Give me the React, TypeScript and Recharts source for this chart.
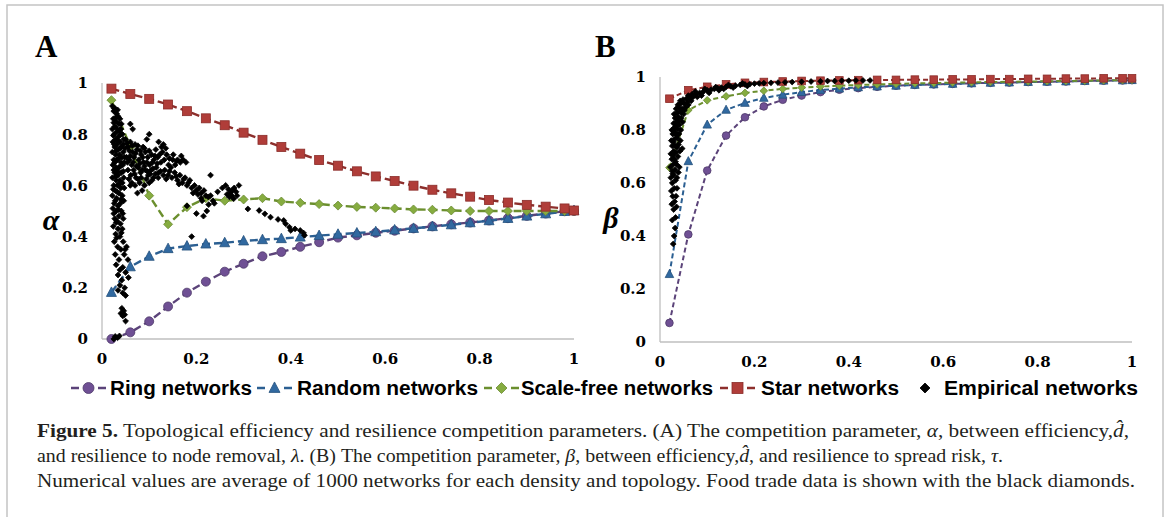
import { ScatterChart, Scatter, XAxis, YAxis } from "recharts";

// network density (x) shared by all simulated topologies
const DENSITY = [0.02, 0.06, 0.1, 0.14, 0.18, 0.22, 0.26, 0.3, 0.34, 0.38, 0.42, 0.46, 0.5, 0.54, 0.58, 0.62, 0.66, 0.7, 0.74, 0.78, 0.82, 0.86, 0.9, 0.94, 0.98, 1];
const TICKS = [0, 0.2, 0.4, 0.6, 0.8, 1];

// Panel A: alpha
const RING_A = [0, 0.026, 0.069, 0.127, 0.181, 0.224, 0.263, 0.294, 0.323, 0.34, 0.36, 0.378, 0.396, 0.405, 0.415, 0.423, 0.432, 0.44, 0.448, 0.455, 0.463, 0.472, 0.481, 0.49, 0.499, 0.5];
const RANDOM_A = [0.182, 0.282, 0.323, 0.353, 0.363, 0.371, 0.376, 0.383, 0.388, 0.392, 0.398, 0.404, 0.409, 0.414, 0.419, 0.426, 0.432, 0.439, 0.446, 0.454, 0.462, 0.471, 0.48, 0.489, 0.498, 0.502];
const SCALEFREE_A = [0.933, 0.75, 0.56, 0.448, 0.515, 0.55, 0.54, 0.545, 0.55, 0.537, 0.532, 0.527, 0.521, 0.516, 0.513, 0.51, 0.506, 0.505, 0.502, 0.5, 0.5, 0.5, 0.5, 0.5, 0.5, 0.5];
const STAR_A = [0.978, 0.957, 0.938, 0.916, 0.89, 0.862, 0.835, 0.806, 0.778, 0.75, 0.724, 0.699, 0.677, 0.655, 0.635, 0.617, 0.599, 0.583, 0.569, 0.556, 0.543, 0.533, 0.524, 0.517, 0.51, 0.502];

// Panel B: beta
const RING_B = [0.072, 0.406, 0.647, 0.779, 0.848, 0.889, 0.914, 0.93, 0.943, 0.952, 0.958, 0.963, 0.967, 0.97, 0.972, 0.974, 0.976, 0.978, 0.979, 0.981, 0.982, 0.983, 0.985, 0.986, 0.987, 0.988];
const RANDOM_B = [0.256, 0.682, 0.82, 0.876, 0.902, 0.921, 0.933, 0.943, 0.951, 0.956, 0.961, 0.964, 0.967, 0.97, 0.972, 0.974, 0.976, 0.978, 0.979, 0.981, 0.982, 0.983, 0.985, 0.986, 0.987, 0.988];
const SCALEFREE_B = [0.658, 0.875, 0.912, 0.927, 0.94, 0.948, 0.955, 0.96, 0.964, 0.967, 0.97, 0.972, 0.974, 0.976, 0.977, 0.979, 0.98, 0.981, 0.982, 0.983, 0.984, 0.985, 0.986, 0.987, 0.988, 0.989];
const STAR_B = [0.918, 0.95, 0.963, 0.972, 0.978, 0.981, 0.983, 0.985, 0.986, 0.987, 0.988, 0.989, 0.989, 0.99, 0.99, 0.991, 0.991, 0.992, 0.992, 0.993, 0.993, 0.994, 0.994, 0.995, 0.995, 0.995];

// empirical food trade networks, [density, alpha]
const EMP_A_BAND = [
  [0.022, 0.91], [0.025, 0.89], [0.028, 0.9], [0.031, 0.88], [0.024, 0.86], [0.03, 0.85], [0.034, 0.87], [0.027, 0.83], [0.036, 0.84], [0.022, 0.82],
  [0.032, 0.81], [0.04, 0.82], [0.026, 0.8], [0.035, 0.79], [0.029, 0.78], [0.043, 0.8], [0.023, 0.77], [0.038, 0.77], [0.031, 0.76], [0.046, 0.78],
  [0.027, 0.75], [0.034, 0.74], [0.041, 0.75], [0.022, 0.73], [0.029, 0.72], [0.037, 0.72], [0.045, 0.73], [0.025, 0.7], [0.032, 0.7], [0.04, 0.69],
  [0.048, 0.71], [0.023, 0.68], [0.03, 0.67], [0.036, 0.67], [0.044, 0.68], [0.027, 0.65], [0.034, 0.64], [0.041, 0.65], [0.022, 0.63], [0.03, 0.62],
  [0.038, 0.62], [0.046, 0.63], [0.025, 0.6], [0.033, 0.6], [0.04, 0.59], [0.028, 0.58], [0.036, 0.57], [0.022, 0.56], [0.043, 0.56], [0.031, 0.55],
  [0.026, 0.53], [0.039, 0.53], [0.034, 0.52], [0.046, 0.54], [0.023, 0.51], [0.03, 0.5], [0.041, 0.5], [0.036, 0.48], [0.027, 0.47], [0.045, 0.47],
  [0.032, 0.46], [0.039, 0.45], [0.024, 0.44], [0.034, 0.43], [0.043, 0.43], [0.029, 0.41], [0.038, 0.4], [0.026, 0.38], [0.045, 0.38], [0.033, 0.36],
  [0.04, 0.35], [0.052, 0.36], [0.028, 0.33], [0.047, 0.33], [0.036, 0.31], [0.055, 0.31], [0.03, 0.29], [0.044, 0.28], [0.05, 0.26], [0.034, 0.25],
  [0.042, 0.23], [0.056, 0.24], [0.038, 0.21], [0.048, 0.2], [0.034, 0.19], [0.05, 0.17], [0.044, 0.18], [0.042, 0.12], [0.046, 0.11], [0.04, 0.1],
  [0.048, 0.095], [0.044, 0.09], [0.05, 0.07], [0.028, 0.01], [0.033, 0.005], [0.037, 0.012], [0.025, 0.0],
  [0.026, 0.9], [0.033, 0.895], [0.029, 0.865], [0.038, 0.86], [0.025, 0.845], [0.041, 0.84], [0.03, 0.825], [0.037, 0.815], [0.024, 0.795], [0.04, 0.8],
  [0.033, 0.775], [0.045, 0.76], [0.026, 0.76], [0.038, 0.745], [0.049, 0.745], [0.03, 0.735], [0.042, 0.71], [0.035, 0.705], [0.027, 0.69], [0.047, 0.69],
  [0.039, 0.675], [0.025, 0.66], [0.033, 0.655], [0.045, 0.655], [0.029, 0.635], [0.043, 0.61], [0.036, 0.605], [0.024, 0.585], [0.047, 0.59], [0.032, 0.575],
  [0.04, 0.545], [0.028, 0.54], [0.035, 0.505], [0.044, 0.49], [0.025, 0.49], [0.03, 0.455], [0.041, 0.415], [0.031, 0.395], [0.049, 0.35], [0.038, 0.27],
];
const EMP_A_CLOUD = [
  [0.05, 0.78], [0.055, 0.75], [0.06, 0.77], [0.065, 0.73], [0.07, 0.76], [0.052, 0.71], [0.058, 0.7], [0.063, 0.68], [0.068, 0.71], [0.074, 0.74],
  [0.078, 0.7], [0.083, 0.72], [0.055, 0.66], [0.061, 0.64], [0.067, 0.66], [0.072, 0.63], [0.077, 0.67], [0.082, 0.65], [0.088, 0.69], [0.092, 0.73],
  [0.097, 0.71], [0.087, 0.75], [0.101, 0.68], [0.105, 0.72], [0.11, 0.7], [0.114, 0.74], [0.118, 0.71], [0.092, 0.66], [0.098, 0.64], [0.104, 0.66],
  [0.109, 0.63], [0.115, 0.67], [0.12, 0.65], [0.125, 0.69], [0.128, 0.73], [0.132, 0.7], [0.137, 0.72], [0.141, 0.68], [0.126, 0.75], [0.133, 0.66],
  [0.14, 0.64], [0.146, 0.67], [0.15, 0.7], [0.155, 0.68], [0.16, 0.7], [0.166, 0.69], [0.172, 0.7], [0.148, 0.63], [0.154, 0.65], [0.16, 0.62],
  [0.165, 0.64], [0.17, 0.61], [0.176, 0.63], [0.18, 0.6], [0.186, 0.62], [0.19, 0.59], [0.196, 0.6], [0.2, 0.58], [0.206, 0.59], [0.21, 0.57],
  [0.216, 0.58], [0.22, 0.56], [0.225, 0.555], [0.23, 0.56], [0.21, 0.55], [0.235, 0.54], [0.238, 0.53], [0.226, 0.525], [0.07, 0.6], [0.08, 0.61],
  [0.085, 0.58], [0.075, 0.57], [0.09, 0.6], [0.1, 0.61], [0.06, 0.6], [0.06, 0.84], [0.065, 0.82], [0.1, 0.8], [0.095, 0.78], [0.12, 0.77],
  [0.13, 0.76], [0.23, 0.64], [0.19, 0.4], [0.2, 0.49], [0.215, 0.48], [0.222, 0.5], [0.18, 0.52],
  [0.053, 0.765], [0.058, 0.735], [0.064, 0.755], [0.071, 0.725], [0.076, 0.755], [0.081, 0.735], [0.086, 0.71], [0.09, 0.745], [0.095, 0.69], [0.1, 0.735],
  [0.107, 0.69], [0.112, 0.715], [0.117, 0.685], [0.122, 0.72], [0.135, 0.745], [0.143, 0.705], [0.151, 0.72], [0.158, 0.695], [0.168, 0.715], [0.178, 0.69],
  [0.054, 0.69], [0.06, 0.715], [0.066, 0.69], [0.073, 0.675], [0.08, 0.685], [0.085, 0.66], [0.09, 0.675], [0.096, 0.655], [0.102, 0.645], [0.108, 0.665],
  [0.113, 0.645], [0.119, 0.63], [0.124, 0.655], [0.13, 0.64], [0.136, 0.625], [0.143, 0.655], [0.157, 0.635], [0.163, 0.605], [0.173, 0.625], [0.183, 0.61],
  [0.057, 0.625], [0.063, 0.61], [0.069, 0.645], [0.076, 0.625], [0.083, 0.63], [0.094, 0.625], [0.106, 0.62], [0.193, 0.57], [0.203, 0.565], [0.212, 0.54],
];
const EMP_A_TAIL = [
  [0.245, 0.575], [0.255, 0.59], [0.262, 0.6], [0.268, 0.585], [0.272, 0.57], [0.276, 0.58], [0.28, 0.59], [0.284, 0.575], [0.275, 0.56], [0.27, 0.555],
  [0.29, 0.6], [0.286, 0.56], [0.265, 0.565], [0.279, 0.548], [0.309, 0.508], [0.333, 0.502], [0.345, 0.489], [0.357, 0.476], [0.373, 0.467], [0.385, 0.463],
  [0.389, 0.45], [0.397, 0.437], [0.4, 0.424], [0.409, 0.43], [0.42, 0.424], [0.427, 0.414], [0.429, 0.405],
];
const EMP_B = [
  [0.028, 0.37], [0.03, 0.4], [0.032, 0.43], [0.026, 0.46], [0.033, 0.47], [0.029, 0.5], [0.035, 0.51], [0.025, 0.52], [0.031, 0.53], [0.027, 0.55],
  [0.034, 0.55], [0.024, 0.57], [0.03, 0.58], [0.036, 0.58], [0.026, 0.6], [0.033, 0.61], [0.023, 0.62], [0.029, 0.63], [0.036, 0.62], [0.026, 0.645],
  [0.032, 0.65], [0.039, 0.64], [0.022, 0.66], [0.028, 0.67], [0.035, 0.67], [0.041, 0.66], [0.025, 0.69], [0.031, 0.69], [0.038, 0.7], [0.023, 0.71],
  [0.029, 0.72], [0.034, 0.715], [0.042, 0.72], [0.026, 0.74], [0.032, 0.74], [0.039, 0.745], [0.047, 0.73], [0.024, 0.76], [0.03, 0.765], [0.036, 0.77],
  [0.043, 0.76], [0.027, 0.785], [0.033, 0.79], [0.04, 0.785], [0.025, 0.8], [0.031, 0.81], [0.037, 0.805], [0.044, 0.8], [0.029, 0.825], [0.035, 0.83],
  [0.041, 0.82], [0.048, 0.83], [0.032, 0.845], [0.038, 0.85], [0.045, 0.845], [0.03, 0.86], [0.036, 0.865], [0.042, 0.87], [0.05, 0.86], [0.034, 0.88],
  [0.04, 0.885], [0.047, 0.88], [0.054, 0.885], [0.038, 0.895], [0.044, 0.9], [0.051, 0.9], [0.058, 0.905], [0.043, 0.91], [0.049, 0.915], [0.056, 0.918],
  [0.063, 0.92], [0.07, 0.925], [0.06, 0.93], [0.068, 0.935], [0.076, 0.935], [0.084, 0.94], [0.075, 0.945], [0.092, 0.945], [0.1, 0.95], [0.108, 0.952],
  [0.095, 0.955], [0.115, 0.955], [0.122, 0.958], [0.13, 0.96], [0.118, 0.962], [0.14, 0.963], [0.15, 0.965], [0.16, 0.967], [0.145, 0.97], [0.17, 0.97],
  [0.18, 0.972], [0.19, 0.973], [0.2, 0.975], [0.175, 0.976], [0.21, 0.976], [0.22, 0.977], [0.235, 0.978], [0.25, 0.979], [0.265, 0.98], [0.28, 0.981],
  [0.3, 0.982], [0.32, 0.983], [0.34, 0.984], [0.355, 0.985], [0.37, 0.985], [0.385, 0.986], [0.4, 0.986], [0.415, 0.987], [0.43, 0.987], [0.445, 0.987],
  [0.027, 0.635], [0.033, 0.68], [0.028, 0.705], [0.036, 0.735], [0.029, 0.755], [0.035, 0.78], [0.028, 0.8], [0.034, 0.815], [0.039, 0.835], [0.045, 0.865],
  [0.052, 0.875], [0.06, 0.895], [0.066, 0.91], [0.079, 0.925], [0.088, 0.93], [0.104, 0.94], [0.125, 0.95], [0.135, 0.955], [0.155, 0.96], [0.185, 0.966],
];

const C = {
  ring: { line: "#5b4379", fill: "#6f5094", edge: "#4e3a69" },
  random: { line: "#2b5f92", fill: "#3169a0", edge: "#24507c" },
  scale: { line: "#6b8f2e", fill: "#86ac40", edge: "#6b8a33" },
  star: { line: "#8d2f2c", fill: "#b03d39", edge: "#8a2c29" },
};

const toPts = (ys: number[]) => DENSITY.map((x, i) => ({ x, y: ys[i] }));
const toPairs = (arr: number[][]) => arr.map(([x, y]) => ({ x, y }));

const drawMarker = (kind: string, fill: string, edge: string, s: number) => (p: any) => {
  const { cx, cy } = p;
  if (cx == null || cy == null) return <g />;
  if (kind === "circle") return <circle cx={cx} cy={cy} r={s} fill={fill} stroke={edge} strokeWidth={0.8} />;
  if (kind === "square") return <rect x={cx - s} y={cy - s} width={2 * s} height={2 * s} fill={fill} stroke={edge} strokeWidth={0.8} />;
  if (kind === "triangle")
    return <polygon points={`${cx},${cy - s * 1.1} ${cx + s},${cy + s * 0.8} ${cx - s},${cy + s * 0.8}`} fill={fill} stroke={edge} strokeWidth={0.8} />;
  return <polygon points={`${cx},${cy - s} ${cx + s},${cy} ${cx},${cy + s} ${cx - s},${cy}`} fill={fill} stroke={edge} strokeWidth={0.8} />;
};

const tickStyle = { fill: "#000", fontSize: 15, fontWeight: "bold", fontFamily: "'DejaVu Serif', serif" };

function Panel({ ring, random, scale, star, emp, margin, dash, lw, big }: any) {
  const k = big ? 1 : 0.85;
  return (
    <ScatterChart width={590} height={380} margin={margin}>
      <XAxis type="number" dataKey="x" domain={[0, 1]} ticks={TICKS} tickFormatter={(v) => String(v)} axisLine={{ stroke: "#bfbfbf", strokeWidth: 1.3 }} tickLine={false} tickSize={0} tickMargin={14} height={30} tick={tickStyle} />
      <YAxis type="number" dataKey="y" domain={[0, 1]} ticks={TICKS} tickFormatter={(v) => String(v)} axisLine={{ stroke: "#bfbfbf", strokeWidth: 1.3 }} tickLine={false} tickSize={0} tickMargin={14} width={40} tick={tickStyle} />
      <Scatter data={toPts(ring)} isAnimationActive={false} line={{ stroke: C.ring.line, strokeWidth: lw, strokeDasharray: dash }} shape={drawMarker("circle", C.ring.fill, C.ring.edge, 4.5 * k)} />
      <Scatter data={toPts(random)} isAnimationActive={false} line={{ stroke: C.random.line, strokeWidth: lw, strokeDasharray: dash }} shape={drawMarker("triangle", C.random.fill, C.random.edge, 5 * k)} />
      <Scatter data={toPts(scale)} isAnimationActive={false} line={{ stroke: C.scale.line, strokeWidth: lw, strokeDasharray: dash }} shape={drawMarker("diamond", C.scale.fill, C.scale.edge, 4.5 * k)} />
      <Scatter data={toPts(star)} isAnimationActive={false} line={{ stroke: C.star.line, strokeWidth: lw, strokeDasharray: dash }} shape={drawMarker("square", C.star.fill, C.star.edge, 4.5 * k)} />
      <Scatter data={toPairs(emp)} isAnimationActive={false} shape={drawMarker("diamond", "#000", "#000", 2.9)} />
    </ScatterChart>
  );
}

const serif = "'Liberation Serif', 'Times New Roman', serif";
const legendFont = "'Liberation Sans Narrow', 'Liberation Sans', Arial, sans-serif";

function LegendItem({ x0, textX, textW, label, color, kind, fill, edge }: any) {
  return (
    <g>
      {kind !== "none" && <line x1={x0} y1={388} x2={x0 + 8} y2={388} stroke={color} strokeWidth={2.5} />}
      {kind !== "none" && <line x1={x0 + 27} y1={388} x2={x0 + 35} y2={388} stroke={color} strokeWidth={2.5} />}
      {drawMarker(kind === "none" ? "diamond" : kind, fill, edge, kind === "none" ? 5 : 5.5)({ cx: kind === "none" ? x0 : x0 + 17.5, cy: 388 })}
      <text x={textX} y={395} fontFamily={legendFont} fontWeight="bold" fontSize={20} textLength={textW} lengthAdjust="spacingAndGlyphs" fill="#000">{label}</text>
    </g>
  );
}

export default function App() {
  return (
    <div style={{ position: "absolute", left: 0, top: 0, width: 1170, height: 517, background: "#fff", overflow: "hidden" }}>
      <svg width={1170} height={517} style={{ position: "absolute", left: 0, top: 0 }}>
        <rect x={7} y={5} width={1156} height={600} fill="none" stroke="#c4c4c4" strokeWidth={1.5} />
        <text x={35} y={57} fontFamily={serif} fontWeight="bold" fontSize={31}>A</text>
        <text x={595} y={57} fontFamily={serif} fontWeight="bold" fontSize={31}>B</text>
        <text x={51} y={230} textAnchor="middle" fontFamily={serif} fontWeight="bold" fontStyle="italic" fontSize={30}>α</text>
        <text x={611} y={228} textAnchor="middle" fontFamily={serif} fontWeight="bold" fontStyle="italic" fontSize={30}>β</text>

        <LegendItem x0={71} textX={110} textW={142} label="Ring networks" color={C.ring.line} kind="circle" fill={C.ring.fill} edge={C.ring.edge} />
        <LegendItem x0={257} textX={297} textW={181} label="Random networks" color={C.random.line} kind="triangle" fill={C.random.fill} edge={C.random.edge} />
        <LegendItem x0={484} textX={521} textW={192} label="Scale-free networks" color={C.scale.line} kind="diamond" fill={C.scale.fill} edge={C.scale.edge} />
        <LegendItem x0={720} textX={761} textW={138} label="Star networks" color={C.star.line} kind="square" fill={C.star.fill} edge={C.star.edge} />
        <LegendItem x0={925} textX={944} textW={194} label="Empirical networks" color="#000" kind="none" fill="#000" edge="#000" />

        <g fontFamily={serif} fontSize={19} fill="#231f20">
          <text x={37} y={437} textLength={1092} lengthAdjust="spacingAndGlyphs">
            <tspan fontWeight="bold">Figure 5.</tspan> Topological efficiency and resilience competition parameters. (A) The competition parameter, <tspan fontStyle="italic">α</tspan>, between efficiency,<tspan fontStyle="italic">d̂</tspan>,
          </text>
          <text x={37} y={462} textLength={966} lengthAdjust="spacingAndGlyphs">
            and resilience to node removal, <tspan fontStyle="italic">λ</tspan>. (B) The competition parameter, <tspan fontStyle="italic">β</tspan>, between efficiency,<tspan fontStyle="italic">d̂</tspan>, and resilience to spread risk, <tspan fontStyle="italic">τ</tspan>.
          </text>
          <text x={37} y={487} textLength={1098} lengthAdjust="spacingAndGlyphs">
            Numerical values are average of 1000 networks for each density and topology. Food trade data is shown with the black diamonds.
          </text>
        </g>
      </svg>
      <div style={{ position: "absolute", left: 0, top: 0 }}>
        <Panel ring={RING_A} random={RANDOM_A} scale={SCALEFREE_A} star={STAR_A} emp={[...EMP_A_BAND, ...EMP_A_CLOUD, ...EMP_A_TAIL]} margin={{ top: 83, left: 62, right: 16, bottom: 11 }} dash="8 4" lw={2.4} big />
      </div>
      <div style={{ position: "absolute", left: 580, top: 0 }}>
        <Panel ring={RING_B} random={RANDOM_B} scale={SCALEFREE_B} star={STAR_B} emp={EMP_B} margin={{ top: 77, left: 40, right: 38, bottom: 8 }} dash="5 3" lw={2} />
      </div>
    </div>
  );
}
